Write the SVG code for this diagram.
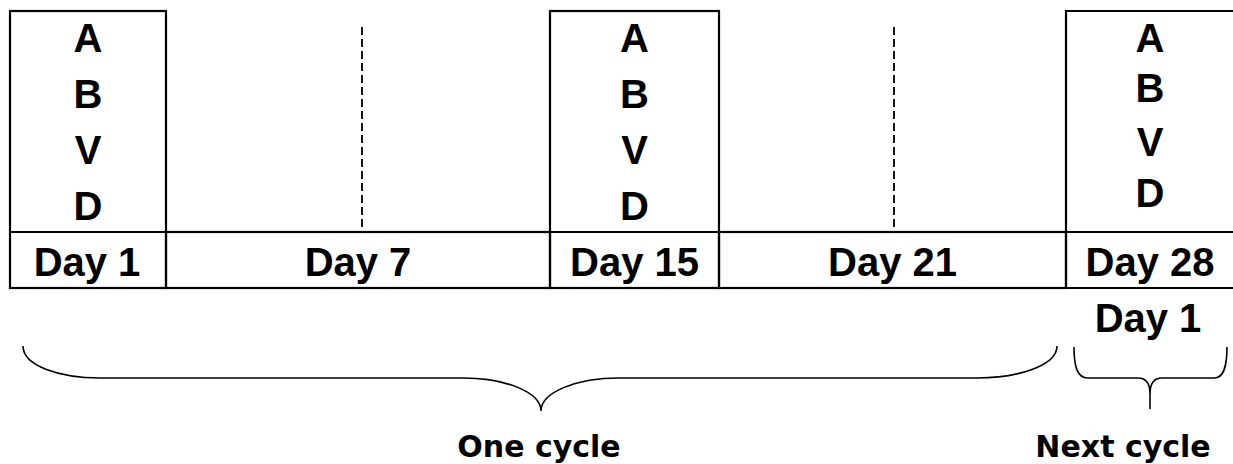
<svg xmlns="http://www.w3.org/2000/svg" width="1233" height="464" viewBox="0 0 1233 464">
<style>
.ln{stroke:#000;stroke-width:2.2;fill:none}
.dash{stroke:#000;stroke-width:1.8;stroke-dasharray:8 4;fill:none}
.br{stroke:#000;stroke-width:1.6;fill:none}
.t{font-family:"Liberation Sans",Arial,sans-serif;font-weight:bold;font-size:40px;fill:#000;text-anchor:middle}
.c{font-family:"DejaVu Sans",Verdana,sans-serif;font-weight:bold;font-size:30px;fill:#000;text-anchor:middle}
</style>
<rect width="1233" height="464" fill="#fff"/>
<g id="day1">
<rect class="ln" x="10" y="11" width="156" height="277"/>
<line class="ln" x1="10" y1="232" x2="166" y2="232"/>
<text class="t" x="88" y="52">A</text>
<text class="t" x="88" y="108">B</text>
<text class="t" x="88" y="164">V</text>
<text class="t" x="88" y="220">D</text>
<text class="t" x="87" y="276">Day 1</text>
</g>
<g id="day7">
<rect class="ln" x="166" y="232" width="384" height="56"/>
<line class="dash" x1="362" y1="27" x2="362" y2="231"/>
<text class="t" x="358" y="276">Day 7</text>
</g>
<g id="day15">
<rect class="ln" x="550" y="11" width="169" height="277"/>
<line class="ln" x1="550" y1="232" x2="719" y2="232"/>
<text class="t" x="634.5" y="52">A</text>
<text class="t" x="634.5" y="108">B</text>
<text class="t" x="634.5" y="164">V</text>
<text class="t" x="634.5" y="220">D</text>
<text class="t" x="634.5" y="276">Day 15</text>
</g>
<g id="day21">
<rect class="ln" x="719" y="232" width="347" height="56"/>
<line class="dash" x1="894" y1="27" x2="894" y2="231"/>
<text class="t" x="892.5" y="276">Day 21</text>
</g>
<g id="day28">
<path class="ln" d="M1240,11 H1066 V288 H1240 M1066,232 H1240"/>
<text class="t" x="1150" y="52">A</text>
<text class="t" x="1150" y="102">B</text>
<text class="t" x="1150" y="156">V</text>
<text class="t" x="1150" y="207">D</text>
<text class="t" x="1150" y="276">Day 28</text>
<text class="t" x="1148" y="332">Day 1</text>
</g>
<g id="connectors">
<path class="br" d="M23,346 C23,366 60,378 100,378 L463,378 C505,378 541,392 541,411 C541,392 577,378 619,378 L977,378 C1017,378 1057,366 1057,346"/>
<path class="br" d="M1074,347 C1074,366 1077,378 1088,378 L1138,378 C1146,378 1150,384 1150,394 L1150,409 M1150,394 C1150,384 1154,378 1162,378 L1214,378 C1224,378 1227,366 1227,347"/>
</g>
<g id="labels">
<text class="c" x="539" y="457">One cycle</text>
<text class="c" x="1123" y="457">Next cycle</text>
</g>
</svg>
